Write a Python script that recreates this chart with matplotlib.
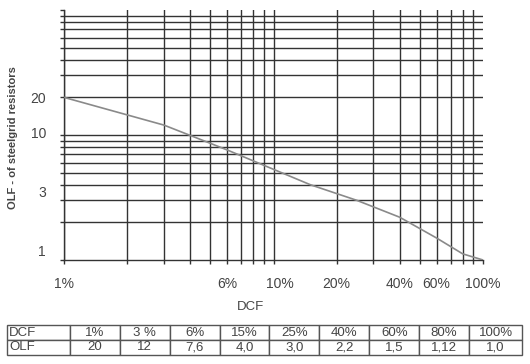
"""OLF vs DCF chart for steelgrid resistors, log-log grid with value table."""
import numpy as np
import matplotlib
matplotlib.use("Agg")
import matplotlib.pyplot as plt
from matplotlib.transforms import ScaledTranslation

plt.rcParams["font.family"] = ["Liberation Sans", "DejaVu Sans"]

# data (table values, the curve follows them)
dcf = [1, 3, 6, 15, 25, 40, 60, 80, 100]
olf = [20, 12, 7.6, 4.0, 3.0, 2.2, 1.5, 1.12, 1.0]
dcf_labels = ["1%", "3 %", "6%", "15%", "25%", "40%", "60%", "80%", "100%"]
olf_labels = ["20", "12", "7,6", "4,0", "3,0", "2,2", "1,5", "1,12", "1,0"]

x_grid = [1, 2, 3, 4, 5, 6, 7, 8, 9, 10, 20, 30, 40, 50, 60, 70, 80, 90]
x_ticklabels = {1: "1%", 6: "6%", 10: "10%", 20: "20%", 40: "40%", 60: "60%", 100: "100%"}
y_grid = [2, 3, 4, 5, 6, 7, 8, 9, 10, 20, 30, 40, 50, 60, 70, 80, 90]
y_ticklabels = {1: "1", 3: "3", 10: "10", 20: "20"}
y_label_shift = {1: 10, 3: 9, 10: 3, 20: 0}   # px, labels sit a bit above their line

GRID = "#333333"
TXT = "#444444"

fig = plt.figure(figsize=(5.30, 3.64), dpi=100)
ax = fig.add_axes([64/530, 1 - 260/364, (483 - 64)/530, 250/364])
ax.set_xscale("log"); ax.set_yscale("log")
ax.set_xlim(1, 100); ax.set_ylim(1, 100)

for v in x_grid:
    ax.axvline(v, color=GRID, lw=1.0, zorder=1)
for v in y_grid:
    ax.axhline(v, color=GRID, lw=1.0, zorder=1)
ax.plot(dcf, olf, color="#8a8a8a", lw=1.2, zorder=3)

for s in ["top", "right"]:
    ax.spines[s].set_visible(False)
for s in ["left", "bottom"]:
    ax.spines[s].set_color(GRID); ax.spines[s].set_linewidth(1.0)

ax.xaxis.set_minor_locator(matplotlib.ticker.NullLocator())
ax.yaxis.set_minor_locator(matplotlib.ticker.NullLocator())
ax.set_xticks(x_grid + [100])
ax.set_xticklabels([x_ticklabels.get(v, "") for v in x_grid + [100]])
ax.set_yticks([1] + y_grid + [100])
ax.set_yticklabels([y_ticklabels.get(v, "") for v in [1] + y_grid + [100]])
ax.tick_params(axis="both", length=3, width=1.0, color=GRID, labelcolor=TXT, labelsize=10)
ax.tick_params(axis="x", pad=9)
ax.tick_params(axis="y", pad=10)
for v, lab in zip([1] + y_grid + [100], ax.get_yticklabels()):
    lab.set_transform(lab.get_transform() + ScaledTranslation(0, y_label_shift.get(v, 0)/100, fig.dpi_scale_trans))
for v, lab in zip(x_grid + [100], ax.get_xticklabels()):
    if v == 10:
        lab.set_transform(lab.get_transform() + ScaledTranslation(6/100, 0, fig.dpi_scale_trans))

fig.text(13/530, 1 - 138/364, "OLF - of steelgrid resistors", rotation=90, ha="center", va="center",
         color=TXT, fontsize=8, fontweight="bold")
fig.text(250/530, 1 - 307/364, "DCF", ha="center", va="center", color=TXT, fontsize=9.5)

# value table
tax = fig.add_axes([7/530, 1 - 355/364, (522 - 7)/530, 30/364])
tax.axis("off")
cw = [63] + [50]*8 + [53]
tab = tax.table(cellText=[["DCF"] + dcf_labels, ["OLF"] + olf_labels],
                colWidths=[w/sum(cw) for w in cw], bbox=[0, 0, 1, 1], cellLoc="center")
tab.auto_set_font_size(False)
for (r, c), cell in tab.get_celld().items():
    cell.set_edgecolor("#555555"); cell.set_linewidth(1.0)
    cell.get_text().set_fontsize(9.5); cell.get_text().set_color(TXT)
    if c == 0:
        cell.get_text().set_ha("left"); cell.PAD = 0.03

fig.savefig("out.png", dpi=100)
